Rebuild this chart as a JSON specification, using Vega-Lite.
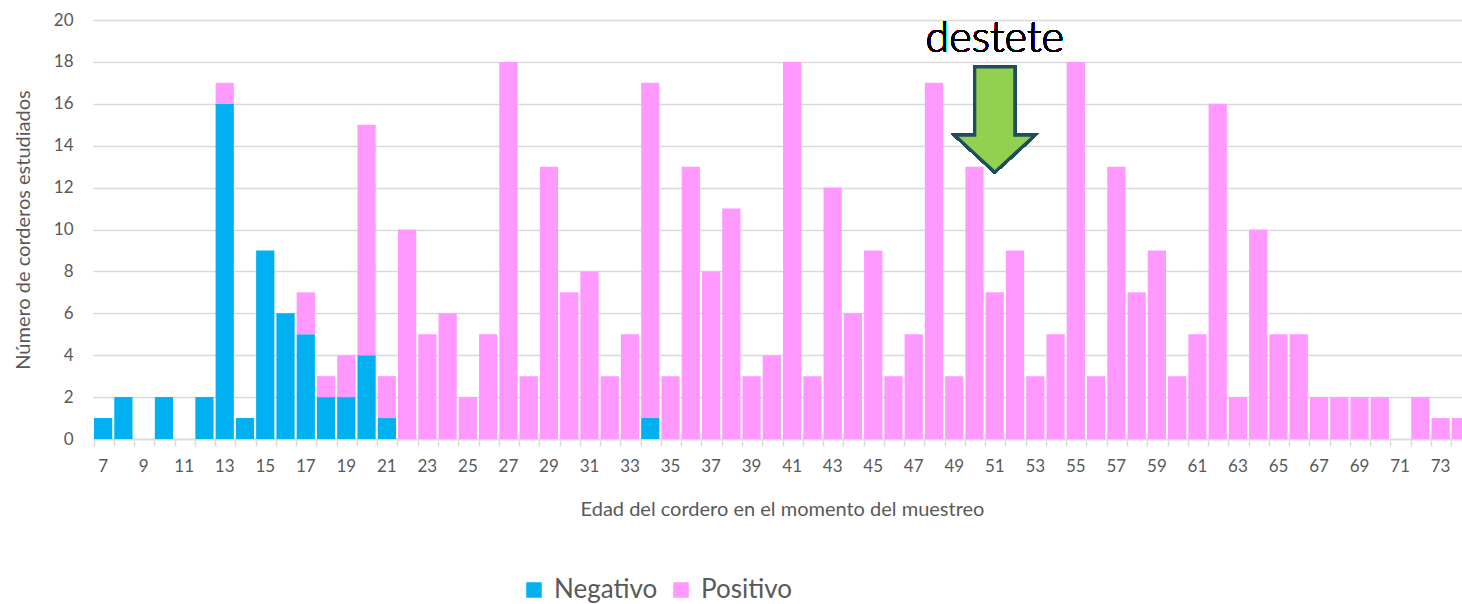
{
  "$schema": "https://vega.github.io/schema/vega-lite/v6.json",
  "width": 1378,
  "height": 419,
  "autosize": "none",
  "padding": {"left": 93, "top": 20, "right": -9, "bottom": 165},
  "config": {
    "font": "Lato",
    "view": {"stroke": null},
    "axis": {"labelColor": "#595959", "titleColor": "#595959", "titleFontWeight": "normal"}
  },
  "data": {
    "values": [
      {"edad": 7, "resultado": "Negativo", "n": 1},
      {"edad": 8, "resultado": "Negativo", "n": 2},
      {"edad": 9, "resultado": "Negativo", "n": 0},
      {"edad": 10, "resultado": "Negativo", "n": 2},
      {"edad": 11, "resultado": "Negativo", "n": 0},
      {"edad": 12, "resultado": "Negativo", "n": 2},
      {"edad": 13, "resultado": "Negativo", "n": 16},
      {"edad": 13, "resultado": "Positivo", "n": 1},
      {"edad": 14, "resultado": "Negativo", "n": 1},
      {"edad": 15, "resultado": "Negativo", "n": 9},
      {"edad": 16, "resultado": "Negativo", "n": 6},
      {"edad": 17, "resultado": "Negativo", "n": 5},
      {"edad": 17, "resultado": "Positivo", "n": 2},
      {"edad": 18, "resultado": "Negativo", "n": 2},
      {"edad": 18, "resultado": "Positivo", "n": 1},
      {"edad": 19, "resultado": "Negativo", "n": 2},
      {"edad": 19, "resultado": "Positivo", "n": 2},
      {"edad": 20, "resultado": "Negativo", "n": 4},
      {"edad": 20, "resultado": "Positivo", "n": 11},
      {"edad": 21, "resultado": "Negativo", "n": 1},
      {"edad": 21, "resultado": "Positivo", "n": 2},
      {"edad": 22, "resultado": "Positivo", "n": 10},
      {"edad": 23, "resultado": "Positivo", "n": 5},
      {"edad": 24, "resultado": "Positivo", "n": 6},
      {"edad": 25, "resultado": "Positivo", "n": 2},
      {"edad": 26, "resultado": "Positivo", "n": 5},
      {"edad": 27, "resultado": "Positivo", "n": 18},
      {"edad": 28, "resultado": "Positivo", "n": 3},
      {"edad": 29, "resultado": "Positivo", "n": 13},
      {"edad": 30, "resultado": "Positivo", "n": 7},
      {"edad": 31, "resultado": "Positivo", "n": 8},
      {"edad": 32, "resultado": "Positivo", "n": 3},
      {"edad": 33, "resultado": "Positivo", "n": 5},
      {"edad": 34, "resultado": "Negativo", "n": 1},
      {"edad": 34, "resultado": "Positivo", "n": 16},
      {"edad": 35, "resultado": "Positivo", "n": 3},
      {"edad": 36, "resultado": "Positivo", "n": 13},
      {"edad": 37, "resultado": "Positivo", "n": 8},
      {"edad": 38, "resultado": "Positivo", "n": 11},
      {"edad": 39, "resultado": "Positivo", "n": 3},
      {"edad": 40, "resultado": "Positivo", "n": 4},
      {"edad": 41, "resultado": "Positivo", "n": 18},
      {"edad": 42, "resultado": "Positivo", "n": 3},
      {"edad": 43, "resultado": "Positivo", "n": 12},
      {"edad": 44, "resultado": "Positivo", "n": 6},
      {"edad": 45, "resultado": "Positivo", "n": 9},
      {"edad": 46, "resultado": "Positivo", "n": 3},
      {"edad": 47, "resultado": "Positivo", "n": 5},
      {"edad": 48, "resultado": "Positivo", "n": 17},
      {"edad": 49, "resultado": "Positivo", "n": 3},
      {"edad": 50, "resultado": "Positivo", "n": 13},
      {"edad": 51, "resultado": "Positivo", "n": 7},
      {"edad": 52, "resultado": "Positivo", "n": 9},
      {"edad": 53, "resultado": "Positivo", "n": 3},
      {"edad": 54, "resultado": "Positivo", "n": 5},
      {"edad": 55, "resultado": "Positivo", "n": 18},
      {"edad": 56, "resultado": "Positivo", "n": 3},
      {"edad": 57, "resultado": "Positivo", "n": 13},
      {"edad": 58, "resultado": "Positivo", "n": 7},
      {"edad": 59, "resultado": "Positivo", "n": 9},
      {"edad": 60, "resultado": "Positivo", "n": 3},
      {"edad": 61, "resultado": "Positivo", "n": 5},
      {"edad": 62, "resultado": "Positivo", "n": 16},
      {"edad": 63, "resultado": "Positivo", "n": 2},
      {"edad": 64, "resultado": "Positivo", "n": 10},
      {"edad": 65, "resultado": "Positivo", "n": 5},
      {"edad": 66, "resultado": "Positivo", "n": 5},
      {"edad": 67, "resultado": "Positivo", "n": 2},
      {"edad": 68, "resultado": "Positivo", "n": 2},
      {"edad": 69, "resultado": "Positivo", "n": 2},
      {"edad": 70, "resultado": "Positivo", "n": 2},
      {"edad": 71, "resultado": "Positivo", "n": 0},
      {"edad": 72, "resultado": "Positivo", "n": 2},
      {"edad": 73, "resultado": "Positivo", "n": 1},
      {"edad": 74, "resultado": "Positivo", "n": 1}
    ]
  },
  "layer": [
    {
      "mark": {"type": "bar"},
      "encoding": {
        "x": {
          "field": "edad",
          "type": "ordinal",
          "sort": "ascending",
          "scale": {"paddingInner": 0.1, "paddingOuter": 0.05},
          "axis": {
            "title": "Edad del cordero en el momento del muestreo",
            "titleFontSize": 20,
            "titlePadding": 25,
            "labelAngle": 0,
            "labelFontSize": 17,
            "labelPadding": 12,
            "labelOffset": 0,
            "bandPosition": 0,
            "labelExpr": "datum.value % 2 == 1 ? datum.label : ''",
            "labelOverlap": false,
            "domainColor": "#D9D9D9",
            "domainWidth": 1.5,
            "tickColor": "#D9D9D9",
            "tickWidth": 1.5,
            "tickSize": 7,
            "grid": false
          }
        },
        "y": {
          "field": "n",
          "type": "quantitative",
          "aggregate": "sum",
          "stack": "zero",
          "scale": {"domain": [0, 20]},
          "axis": {
            "title": "Número de corderos estudiados",
            "titleFontSize": 20,
            "titlePadding": 20,
            "labelFontSize": 17,
            "labelPadding": 20,
            "labelOverlap": false,
            "values": [0, 2, 4, 6, 8, 10, 12, 14, 16, 18, 20],
            "domain": false,
            "ticks": false,
            "gridColor": "#D9D9D9",
            "gridWidth": 1.5
          }
        },
        "color": {
          "field": "resultado",
          "type": "nominal",
          "scale": {"domain": ["Negativo", "Positivo"], "range": ["#00B0F0", "#FF99FF"]},
          "legend": {
            "title": null,
            "orient": "none",
            "legendX": 428,
            "legendY": 557,
            "direction": "horizontal",
            "symbolType": "square",
            "symbolSize": 240,
            "symbolStrokeWidth": 0,
            "labelFontSize": 26,
            "labelColor": "#595959",
            "columnPadding": 10,
            "labelOffset": 7
          }
        },
        "order": {"field": "resultado", "sort": "ascending"}
      }
    },
    {
      "mark": {
        "type": "point",
        "shape": "M -0.38 -1 L 0.38 -1 L 0.38 0.3 L 0.76 0.3 L 0 1 L -0.76 0.3 L -0.38 0.3 Z",
        "filled": true,
        "fill": "#92D050",
        "stroke": "#1F4E5F",
        "strokeWidth": 3,
        "opacity": 1,
        "size": 11025
      },
      "encoding": {
        "x": {"datum": 51, "type": "ordinal"},
        "y": {"datum": 15.25, "type": "quantitative"}
      }
    },
    {
      "mark": {
        "type": "text",
        "text": "destete",
        "font": "Lato",
        "fontSize": 43,
        "fontWeight": 300,
        "fill": "#000000",
        "strokeWidth": 0,
        "baseline": "middle",
        "align": "center"
      },
      "encoding": {
        "x": {"datum": 51, "type": "ordinal"},
        "y": {"datum": 19.1, "type": "quantitative"}
      }
    }
  ]
}
